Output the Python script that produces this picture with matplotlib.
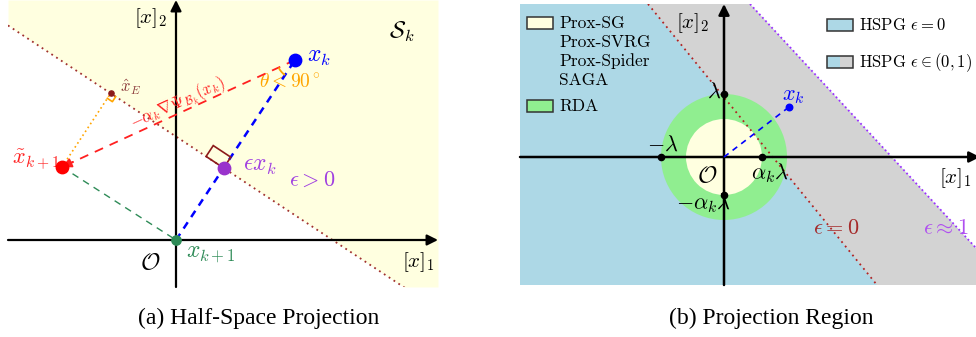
import numpy as np
import matplotlib
matplotlib.use("Agg")
import matplotlib.pyplot as plt
from matplotlib.patches import Polygon, Rectangle, Circle, Arc

plt.rcParams['mathtext.fontset'] = 'cm'

# ---------------- data: panel (a) half-space projection ----------------
xk_a = np.array([119.0, 180.0])          # current iterate x_k
eps_a = 0.4                               # epsilon
xtilde = np.array([-114.0, 73.0])         # trial point x~_{k+1}
origin = np.array([0.0, 0.0])

# ---------------- data: panel (b) projection region ----------------
lam = 63.0                                # lambda
alam = 38.0                               # alpha_k * lambda
xk_b = np.array([65.0, 50.0])
red_line_b = np.array([[-76.0, 153.0], [153.0, -128.0]])   # eps = 0 boundary
purple_line_b = np.array([[26.0, 153.0], [252.0, -91.0]])  # eps ~ 1 boundary
legend_left = [["Prox-SG", "Prox-SVRG", "Prox-Spider", "SAGA"], ["RDA"]]
legend_right = [r"HSPG $\epsilon = 0$", r"HSPG $\epsilon \in (0,1)$"]

W, H = 976, 337
fig = plt.figure(figsize=(W / 100, H / 100), dpi=100)

def px_axes(l, t, r, b):
    return fig.add_axes([l / W, 1 - b / H, (r - l) / W, (b - t) / H])

LY = '#ffffe0'
# ======================= panel (a) =======================
axa = px_axes(8, 0, 438, 287)
axa.set_xlim(-168, 262)
axa.set_ylim(-47, 240)
axa.axis('off')

p0 = eps_a * xk_a
m = -xk_a[0] / xk_a[1]
xs = np.linspace(-168, 262, 400)
ys = p0[1] + m * (xs - p0[0])
axa.fill_between(xs, np.maximum(ys, -47), 240, color=LY, lw=0, zorder=0)
axa.plot(xs, ys, ls=(0, (1, 2.2)), color='#a0302e', lw=1.3, zorder=2)

d = np.array([1.0, m]) / np.hypot(1, m)
xhatE = p0 + np.dot(xtilde - p0, d) * d

axa.annotate('', xy=(262, 0), xytext=(-168, 0),
             arrowprops=dict(arrowstyle='-|>', color='k', lw=1.6, mutation_scale=16,
                             shrinkA=0, shrinkB=0), annotation_clip=False, zorder=3)
axa.annotate('', xy=(0, 240), xytext=(0, -47),
             arrowprops=dict(arrowstyle='-|>', color='k', lw=1.6, mutation_scale=16,
                             shrinkA=0, shrinkB=0), annotation_clip=False, zorder=3)

axa.plot([0, xk_a[0]], [0, xk_a[1]], ls=(0, (3, 2.5)), color='#0000ff', lw=1.8, zorder=4)
axa.plot([xtilde[0], 0], [xtilde[1], 0], ls=(0, (5, 4)), color='#2e8b57', lw=1.0, zorder=4)
axa.plot([xtilde[0], xhatE[0]], [xtilde[1], xhatE[1]], ls=(0, (1, 1.8)), color='orange', lw=1.2, zorder=4)
axa.plot([xk_a[0], xtilde[0]], [xk_a[1], xtilde[1]], ls=(0, (5, 4)), color='#ff2020', lw=1.3, zorder=4)
dr = (xtilde - xk_a) / np.linalg.norm(xtilde - xk_a)
axa.annotate('', xy=xtilde, xytext=xtilde - dr * 12,
             arrowprops=dict(arrowstyle='-|>', color='#ff2020', lw=1.3, mutation_scale=14,
                             shrinkA=0, shrinkB=0), zorder=5)

db = xk_a / np.linalg.norm(xk_a)
dl = -d
c = p0
rect = [c, c + dl * 21, c + dl * 21 + db * 13, c + db * 13]
axa.add_patch(Polygon(rect, closed=True, fill=False, ec='#8b1a1a', lw=1.2, zorder=5))
dperp = (xtilde - xhatE) / np.linalg.norm(xtilde - xhatE)
s = 6
sq = [xhatE + d * s, xhatE + d * s + dperp * s, xhatE + dperp * s]
axa.plot([q[0] for q in sq], [q[1] for q in sq], color='orange', lw=1.2, zorder=5)
a1 = np.degrees(np.arctan2(dr[1], dr[0]))
a2 = np.degrees(np.arctan2(-xk_a[1], -xk_a[0]))
axa.add_patch(Arc(xk_a, 36, 36, theta1=min(a1, a2) % 360, theta2=max(a1, a2) % 360,
                  color='orange', lw=1.3, zorder=5))

axa.scatter(*xk_a, s=80, color='#0000ff', zorder=6)
axa.scatter(*p0, s=80, color='#9932cc', zorder=6)
axa.scatter(*xtilde, s=80, color='#ff0000', zorder=6)
axa.scatter(*origin, s=45, color='#2e8b57', zorder=6)
axa.scatter(*xhatE, s=14, color='#8b1a1a', zorder=6)

fs = 15
axa.text(-26, 222, r'$[x]_2$', fontsize=fs, ha='center', va='center')
axa.text(226, 208, r'$\mathcal{S}_k$', fontsize=17, ha='center', va='center')
axa.text(143, 184, r'$x_k$', fontsize=17, color='#0000ff', ha='center', va='center')
axa.text(114, 158, r'$\theta < 90^\circ$', fontsize=14, color='orange', ha='center', va='center')
axa.text(-45, 153, r'$\hat{x}_E$', fontsize=12, color='#8b3a3a', ha='center', va='center')
ang = np.degrees(np.arctan2(-dr[1], -dr[0]))
axa.text(2, 137, r'$-\alpha_k\nabla\Psi_{\mathcal{B}_k}(x_k)$', fontsize=12, color='#ff2020',
         ha='center', va='center', rotation=ang, rotation_mode='anchor')
axa.text(-140, 80, r'$\tilde{x}_{k+1}$', fontsize=16, color='#ff2020', ha='center', va='center')
axa.text(84, 75, r'$\epsilon x_k$', fontsize=17, color='#a040e0', ha='center', va='center')
axa.text(136, 60, r'$\epsilon > 0$', fontsize=16, color='#a040e0', ha='center', va='center')
axa.text(-26, -22, r'$\mathcal{O}$', fontsize=17, ha='center', va='center')
axa.text(35, -13, r'$x_{k+1}$', fontsize=17, color='#2e8b57', ha='center', va='center')
axa.text(242, -22, r'$[x]_1$', fontsize=fs, ha='center', va='center')

# ======================= panel (b) =======================
axb = px_axes(520, 4, 976, 285)
axb.set_xlim(-204, 252)
axb.set_ylim(-128, 153)
axb.axis('off')
BL, GR, GN = '#add8e6', '#d3d3d3', '#90ee90'
axb.add_patch(Rectangle((-204, -128), 456, 281, color=BL, lw=0, zorder=0))
grey_poly = [red_line_b[0], purple_line_b[0], purple_line_b[1], (252, -128), red_line_b[1]]
axb.add_patch(Polygon(grey_poly, closed=True, color=GR, lw=0, zorder=1))
white_poly = [purple_line_b[0], (252, 153), purple_line_b[1]]
axb.add_patch(Polygon(white_poly, closed=True, color='white', lw=0, zorder=1))
axb.add_patch(Circle((0, 0), lam, color=GN, lw=0, zorder=2))
axb.add_patch(Circle((0, 0), alam, color=LY, lw=0, zorder=2))
axb.plot(red_line_b[:, 0], red_line_b[:, 1], ls=(0, (1, 2.2)), color='#b22222', lw=1.3, zorder=3)
axb.plot(purple_line_b[:, 0], purple_line_b[:, 1], ls=(0, (1, 1.5)), color='#9b30ff', lw=1.3, zorder=3)

axb.annotate('', xy=(256, 0), xytext=(-204, 0),
             arrowprops=dict(arrowstyle='-|>', color='k', lw=1.8, mutation_scale=16,
                             shrinkA=0, shrinkB=0), annotation_clip=False, zorder=4)
axb.annotate('', xy=(0, 153), xytext=(0, -128),
             arrowprops=dict(arrowstyle='-|>', color='k', lw=1.8, mutation_scale=16,
                             shrinkA=0, shrinkB=0), annotation_clip=False, zorder=4)
axb.plot([0, xk_b[0]], [0, xk_b[1]], ls=(0, (3.5, 3)), color='#0000ff', lw=1.2, zorder=5)
axb.scatter(*xk_b, s=22, color='#0000ff', zorder=6)
axb.scatter([-lam, 0, alam, 0], [0, lam, 0, -alam], s=20, color='k', zorder=6)

axb.text(-32, 134, r'$[x]_2$', fontsize=fs, ha='center', va='center')
axb.text(-10, 65, r'$\lambda$', fontsize=16, ha='center', va='center')
axb.text(-61, 12, r'$-\lambda$', fontsize=16, ha='center', va='center')
axb.text(-17, -18, r'$\mathcal{O}$', fontsize=17, ha='center', va='center')
axb.text(46, -16, r'$\alpha_k\lambda$', fontsize=16, ha='center', va='center')
axb.text(-20, -46, r'$-\alpha_k\lambda$', fontsize=16, ha='center', va='center')
axb.text(69, 61, r'$x_k$', fontsize=16, color='#0000ff', ha='center', va='center')
axb.text(231, -21, r'$[x]_1$', fontsize=fs, ha='center', va='center')
axb.text(112, -71, r'$\epsilon = 0$', fontsize=16, color='#a52a2a', ha='center', va='center')
axb.text(222, -71, r'$\epsilon \approx 1$', fontsize=16, color='#b050f0', ha='center', va='center')

def px2b(x, y):
    return x - 724, 157 - y

def box(x0, y0, colors):
    n = len(colors)
    for i, col in enumerate(colors):
        bx, by = px2b(x0 + i * 26 / n, y0 + 12)
        axb.add_patch(Rectangle((bx, by), 26 / n, 12, color=col, lw=0, zorder=7))
    bx, by = px2b(x0, y0 + 12)
    axb.add_patch(Rectangle((bx, by), 26, 12, fill=False, ec='#333333', lw=1.1, zorder=8))

box(527, 17, [LY])
box(527, 100, [GN])
box(827, 19, [BL])
box(827, 56, [BL, GR])
lfs = 12.5
for i, line in enumerate(legend_left[0]):
    tx, ty = px2b(559, 23 + 19 * i)
    axb.text(tx, ty, line, fontsize=lfs, family='cmr10', ha='left', va='center', zorder=9)
tx, ty = px2b(559, 106)
axb.text(tx, ty, legend_left[1][0], fontsize=lfs, family='cmr10', ha='left', va='center', zorder=9)
tx, ty = px2b(859, 25)
axb.text(tx, ty, legend_right[0], fontsize=12, family='cmr10', ha='left', va='center', zorder=9)
tx, ty = px2b(859, 63)
axb.text(tx, ty, legend_right[1], fontsize=12, family='cmr10', ha='left', va='center', zorder=9)

fig.text(259 / W, 1 - 318 / H, '(a) Half-Space Projection', fontsize=17,
         family='Liberation Serif', ha='center', va='center')
fig.text(771 / W, 1 - 318 / H, '(b) Projection Region', fontsize=17,
         family='Liberation Serif', ha='center', va='center')

fig.savefig('out.png', dpi=100)
